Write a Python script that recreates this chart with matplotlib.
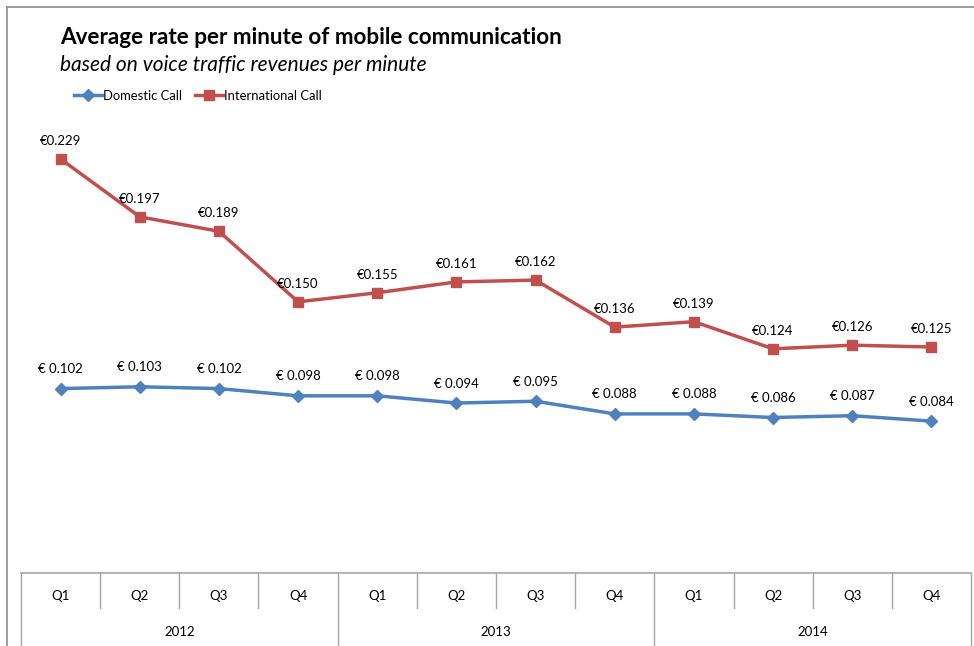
import matplotlib
matplotlib.use("Agg")
import matplotlib.pyplot as plt
from matplotlib.lines import Line2D

plt.rcParams['font.family'] = ['Lato', 'DejaVu Sans']

quarters = ["Q1", "Q2", "Q3", "Q4"] * 3
years = ["2012", "2013", "2014"]
domestic = [0.102, 0.103, 0.102, 0.098, 0.098, 0.094, 0.095, 0.088, 0.088, 0.086, 0.087, 0.084]
international = [0.229, 0.197, 0.189, 0.150, 0.155, 0.161, 0.162, 0.136, 0.139, 0.124, 0.126, 0.125]

W, H = 974, 646
fig = plt.figure(figsize=(W / 100, H / 100), dpi=100)

def fx(px):
    return px / W

def fy(py):
    return 1 - py / H

# plot area: y = 0 sits on the top edge of the category table
y0_px, top_px = 573, 121
ax = fig.add_axes([fx(21), fy(y0_px), fx(971) - fx(21), (y0_px - top_px) / H])
ax.set_xlim(-0.5, 11.5)
ax.set_ylim(0, 0.25)
ax.axis("off")

blue = "#4F81BD"
red = "#C0504D"
x = list(range(len(quarters)))

ln_dom, = ax.plot(x, domestic, color=blue, lw=2.5, marker="D", ms=6.5,
                  mec=blue, mfc=blue, label="Domestic Call", zorder=3)
ln_int, = ax.plot(x, international, color=red, lw=2.5, marker="s", ms=7.5,
                  mec=red, mfc=red, label="International Call", zorder=3)

for xi, v in zip(x, international):
    ax.annotate(f"€{v:.3f}", (xi, v), xytext=(0, 13), textcoords="offset points",
                ha="center", va="center", fontsize=9.5, color="#000000")
for xi, v in zip(x, domestic):
    ax.annotate(f"€ {v:.3f}", (xi, v), xytext=(0, 14), textcoords="offset points",
                ha="center", va="center", fontsize=9.5, color="#000000")

# category table below the plot
grid_c = "#a6a6a6"
tr = ax.get_xaxis_transform()
table_top = 0.0
q_row_bot = -(608 - y0_px) / (y0_px - top_px)
bottom = -(H - y0_px + 2) / (y0_px - top_px)
ax.add_line(Line2D([-0.5, 11.5], [table_top, table_top], transform=tr,
                   color=grid_c, lw=1.2, clip_on=False))
for i in range(len(quarters) + 1):
    xb = i - 0.5
    yb = bottom if i % 4 == 0 else q_row_bot
    ax.add_line(Line2D([xb, xb], [table_top, yb], transform=tr,
                       color=grid_c, lw=1.0, clip_on=False))
q_y = -(596 - y0_px) / (y0_px - top_px)
for xi, q in zip(x, quarters):
    ax.text(xi, q_y, q, transform=tr, ha="center", va="center", fontsize=9.5)
yr_y = -(632 - y0_px) / (y0_px - top_px)
for j, yr in enumerate(years):
    ax.text(4 * j + 1.5, yr_y, yr, transform=tr, ha="center", va="center", fontsize=9.5)

# outer chart frame (top and left edges)
frame_c = "#8c8c8c"
fig.add_artist(Line2D([fx(7), 1], [fy(7), fy(7)], color=frame_c, lw=1.2))
fig.add_artist(Line2D([fx(7), fx(7)], [fy(7), 0], color=frame_c, lw=1.2))

fig.text(fx(60), fy(37.5), "Average rate per minute of mobile communication",
         fontsize=16.2, fontweight="bold", ha="left", va="center")
fig.text(fx(60), fy(65), "based on voice traffic revenues per minute",
         fontsize=15, style="italic", ha="left", va="center")

fig.legend(handles=[ln_dom, ln_int], loc="center left",
           bbox_to_anchor=(fx(74), fy(96)), ncol=2, frameon=False,
           fontsize=9.4, handlelength=2.15, handletextpad=0.05,
           columnspacing=1.0, borderaxespad=0, borderpad=0)

fig.savefig("out.png", dpi=100)
